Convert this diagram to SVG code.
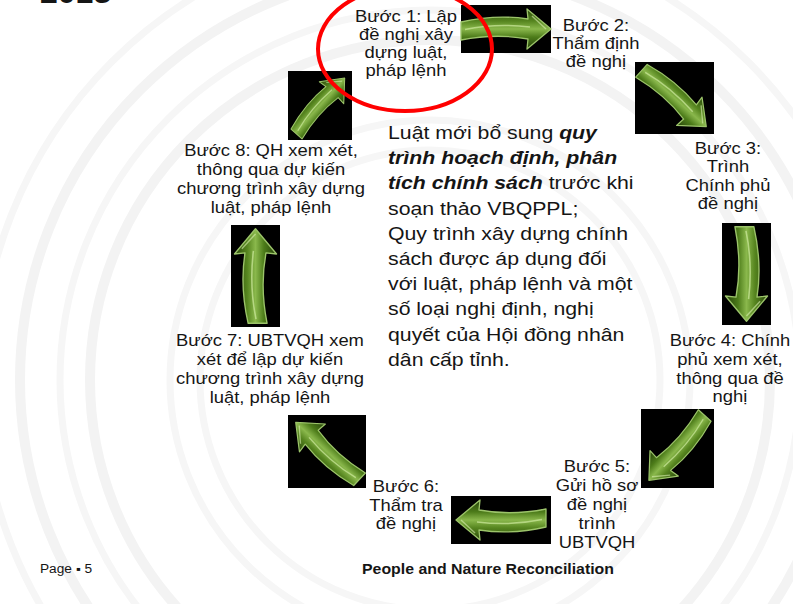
<svg xmlns="http://www.w3.org/2000/svg" width="793" height="604" viewBox="0 0 793 604">
<style>
.st{font-family:"Liberation Sans",Arial,sans-serif;font-size:16px;fill:#151515;text-anchor:middle}
.ct{font-family:"Liberation Sans",Arial,sans-serif;font-size:18.5px;fill:#151515}
.bi{font-weight:bold;font-style:italic}
.box{fill:#000}
.ring{fill:none;stroke:#f3f3f3;stroke-width:10}
.ring2{fill:none;stroke:#f6f6f6;stroke-width:7}
.ft{font-family:"Liberation Sans",Arial,sans-serif;fill:#151515}
</style>
<defs>
<linearGradient id="ag" x1="0" y1="0" x2="0" y2="1">
<stop offset="0" stop-color="#2a4a0c"/>
<stop offset="0.3" stop-color="#56851f"/>
<stop offset="0.5" stop-color="#8ab84c"/>
<stop offset="0.7" stop-color="#4d7c1a"/>
<stop offset="1" stop-color="#25420a"/>
</linearGradient>
<g id="arrow">
<path d="M -45,-7 Q -10,-15 22,-10 L 21,-20 L 45,0 L 21,20 L 22,10 Q -10,4 -45,11 Z" fill="url(#ag)" stroke="#9cc46a" stroke-width="1.3" stroke-linejoin="round"/>
<path d="M -41,0.5 Q -10,-6 24,-2" fill="none" stroke="#c8e698" stroke-width="1.5" opacity="0.75"/>
<path d="M 26,-13 L 40,0" fill="none" stroke="#d8efb0" stroke-width="1.4" opacity="0.6"/>
</g>
</defs>
<rect width="793" height="604" fill="#fff"/>
<g id="background">
<circle class="ring" cx="430" cy="380" r="340"/>
<circle class="ring2" cx="430" cy="380" r="370"/>
<circle class="ring" cx="430" cy="380" r="410"/>
<circle class="ring2" cx="430" cy="380" r="450"/>
<circle class="ring2" cx="430" cy="380" r="230"/>
<circle class="ring2" cx="430" cy="380" r="260"/>
</g>
<text class="ft" x="40" y="3" font-size="32" font-weight="bold">2013</text>
<g id="connectors">
<rect class="box" x="461" y="5" width="90" height="48"/>
<use href="#arrow" transform="translate(506,29)"/>
<rect class="box" x="635" y="62" width="79" height="72"/>
<use href="#arrow" transform="translate(674.5,98) rotate(42) scale(0.95)"/>
<rect class="box" x="722" y="223" width="49" height="102"/>
<use href="#arrow" transform="translate(746.5,274) rotate(90) scale(1.05)"/>
<rect class="box" x="641" y="409" width="73" height="79"/>
<use href="#arrow" transform="translate(677.5,448.5) rotate(132) scale(0.95)"/>
<rect class="box" x="451" y="496" width="100" height="48"/>
<use href="#arrow" transform="translate(501,520) rotate(180)"/>
<rect class="box" x="288" y="415" width="78" height="73"/>
<use href="#arrow" transform="translate(327,451.5) rotate(223) scale(0.95)"/>
<rect class="box" x="231" y="225" width="49" height="102"/>
<use href="#arrow" transform="translate(255.5,276) rotate(-90) scale(1.05)"/>
<rect class="box" x="288" y="71" width="64" height="69"/>
<use href="#arrow" transform="translate(320,105.5) rotate(-48) scale(0.82)"/>
</g>
<g id="step1" transform="translate(406,0) scale(1.15,1)">
<text class="st" x="0" y="22">Bước 1: Lập</text>
<text class="st" x="0" y="40">đề nghị xây</text>
<text class="st" x="0" y="58">dựng luật,</text>
<text class="st" x="0" y="76">pháp lệnh</text>
</g>
<g id="step2" transform="translate(596,0) scale(1.15,1)">
<text class="st" x="0" y="31">Bước 2:</text>
<text class="st" x="0" y="49">Thẩm định</text>
<text class="st" x="0" y="67">đề nghị</text>
</g>
<g id="step3" transform="translate(728,0) scale(1.15,1)">
<text class="st" x="0" y="154">Bước 3:</text>
<text class="st" x="0" y="172">Trình</text>
<text class="st" x="0" y="191">Chính phủ</text>
<text class="st" x="0" y="209">đề nghị</text>
</g>
<g id="step4" transform="translate(730,0) scale(1.15,1)">
<text class="st" x="0" y="346">Bước 4: Chính</text>
<text class="st" x="0" y="365">phủ xem xét,</text>
<text class="st" x="0" y="384">thông qua đề</text>
<text class="st" x="0" y="402">nghị</text>
</g>
<g id="step5" transform="translate(597,0) scale(1.15,1)">
<text class="st" x="0" y="472">Bước 5:</text>
<text class="st" x="0" y="491">Gửi hồ sơ</text>
<text class="st" x="0" y="510">đề nghị</text>
<text class="st" x="0" y="529">trình</text>
<text class="st" x="0" y="548">UBTVQH</text>
</g>
<g id="step6" transform="translate(406,0) scale(1.15,1)">
<text class="st" x="0" y="492">Bước 6:</text>
<text class="st" x="0" y="511">Thẩm tra</text>
<text class="st" x="0" y="529">đề nghị</text>
</g>
<g id="step7" transform="translate(270,0) scale(1.15,1)">
<text class="st" x="0" y="346">Bước 7: UBTVQH xem</text>
<text class="st" x="0" y="365">xét để lập dự kiến</text>
<text class="st" x="0" y="384">chương trình xây dựng</text>
<text class="st" x="0" y="403">luật, pháp lệnh</text>
</g>
<g id="step8" transform="translate(271,0) scale(1.15,1)">
<text class="st" x="0" y="156">Bước 8: QH xem xét,</text>
<text class="st" x="0" y="175">thông qua dự kiến</text>
<text class="st" x="0" y="194">chương trình xây dựng</text>
<text class="st" x="0" y="213">luật, pháp lệnh</text>
</g>
<g id="center-text" transform="translate(388,0) scale(1.15,1)">
<text class="ct" x="0" y="139">Luật mới bổ sung <tspan class="bi">quy</tspan></text>
<text class="ct" x="0" y="164.2"><tspan class="bi">trình hoạch định, phân</tspan></text>
<text class="ct" x="0" y="189.4"><tspan class="bi">tích chính sách</tspan> trước khi</text>
<text class="ct" x="0" y="214.6">soạn thảo VBQPPL;</text>
<text class="ct" x="0" y="239.8">Quy trình xây dựng chính</text>
<text class="ct" x="0" y="265">sách được áp dụng đối</text>
<text class="ct" x="0" y="290.2">với luật, pháp lệnh và một</text>
<text class="ct" x="0" y="315.4">số loại nghị định, nghị</text>
<text class="ct" x="0" y="340.6">quyết của Hội đồng nhân</text>
<text class="ct" x="0" y="365.8">dân cấp tỉnh.</text>
</g>
<ellipse id="highlight" cx="405" cy="49" rx="87" ry="62" fill="none" stroke="#ff0000" stroke-width="4"/>
<g id="footer">
<text class="ft" x="40" y="573" font-size="12" textLength="52" lengthAdjust="spacingAndGlyphs">Page ▪ 5</text>
<text class="ft" x="362" y="574" font-size="15" font-weight="bold" textLength="252" lengthAdjust="spacingAndGlyphs">People and Nature Reconciliation</text>
</g>
</svg>
